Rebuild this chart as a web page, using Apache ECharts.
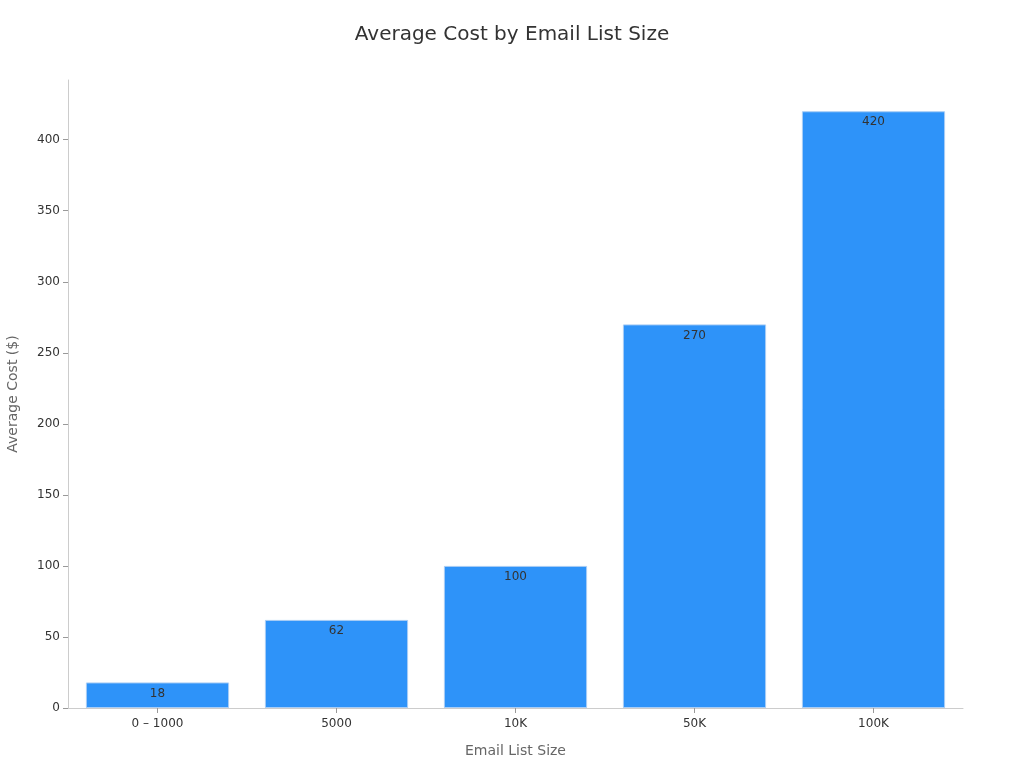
<!DOCTYPE html>
<html><head><meta charset="utf-8">
<script src="https://cdn.jsdelivr.net/npm/echarts@6/dist/echarts.min.js"></script>
<style>html,body{margin:0;padding:0}#c{width:1024px;height:768px}</style>
</head><body><div id="c"></div>
<script>
const categories = ["0 – 1000", "5000", "10K", "50K", "100K"];
const values = [18, 62, 100, 270, 420];
const chart = echarts.init(document.getElementById('c'));
chart.setOption({
  textStyle: {fontFamily: 'DejaVu Sans'},
  title: {text: 'Average Cost by Email List Size', left: 'center', top: 20,
    textStyle: {fontSize: 20, fontWeight: 'normal', color: '#333', fontFamily: 'DejaVu Sans'}},
  grid: {left: 68, right: 61, top: 80, bottom: 60, containLabel: false, outerBoundsMode: 'none'},
  xAxis: {type: 'category', data: categories,
    name: 'Email List Size', nameLocation: 'middle', nameGap: 36,
    nameTextStyle: {fontSize: 14, color: '#666'},
    axisLine: {lineStyle: {color: '#ccc'}}, axisTick: {show: true, alignWithLabel: true, lineStyle: {color: '#999'}},
    axisLabel: {color: '#333', fontSize: 12, margin: 10}},
  yAxis: {type: 'value', min: 0, max: 442, interval: 50,
    name: 'Average Cost ($)', nameLocation: 'middle', nameGap: 48,
    nameTextStyle: {fontSize: 14, color: '#666'},
    axisLine: {show: true, lineStyle: {color: '#ccc'}}, axisTick: {show: true, lineStyle: {color: '#999'}},
    splitLine: {show: false},
    axisLabel: {color: '#333', fontSize: 12, showMaxLabel: false}},
  series: [{type: 'bar', data: values, barCategoryGap: '20%',
    itemStyle: {color: '#2e93f9', borderColor: '#a9cdf5', borderWidth: 1},
    label: {show: true, position: 'insideTop', color: '#333', fontSize: 12}}]
});
</script></body></html>
